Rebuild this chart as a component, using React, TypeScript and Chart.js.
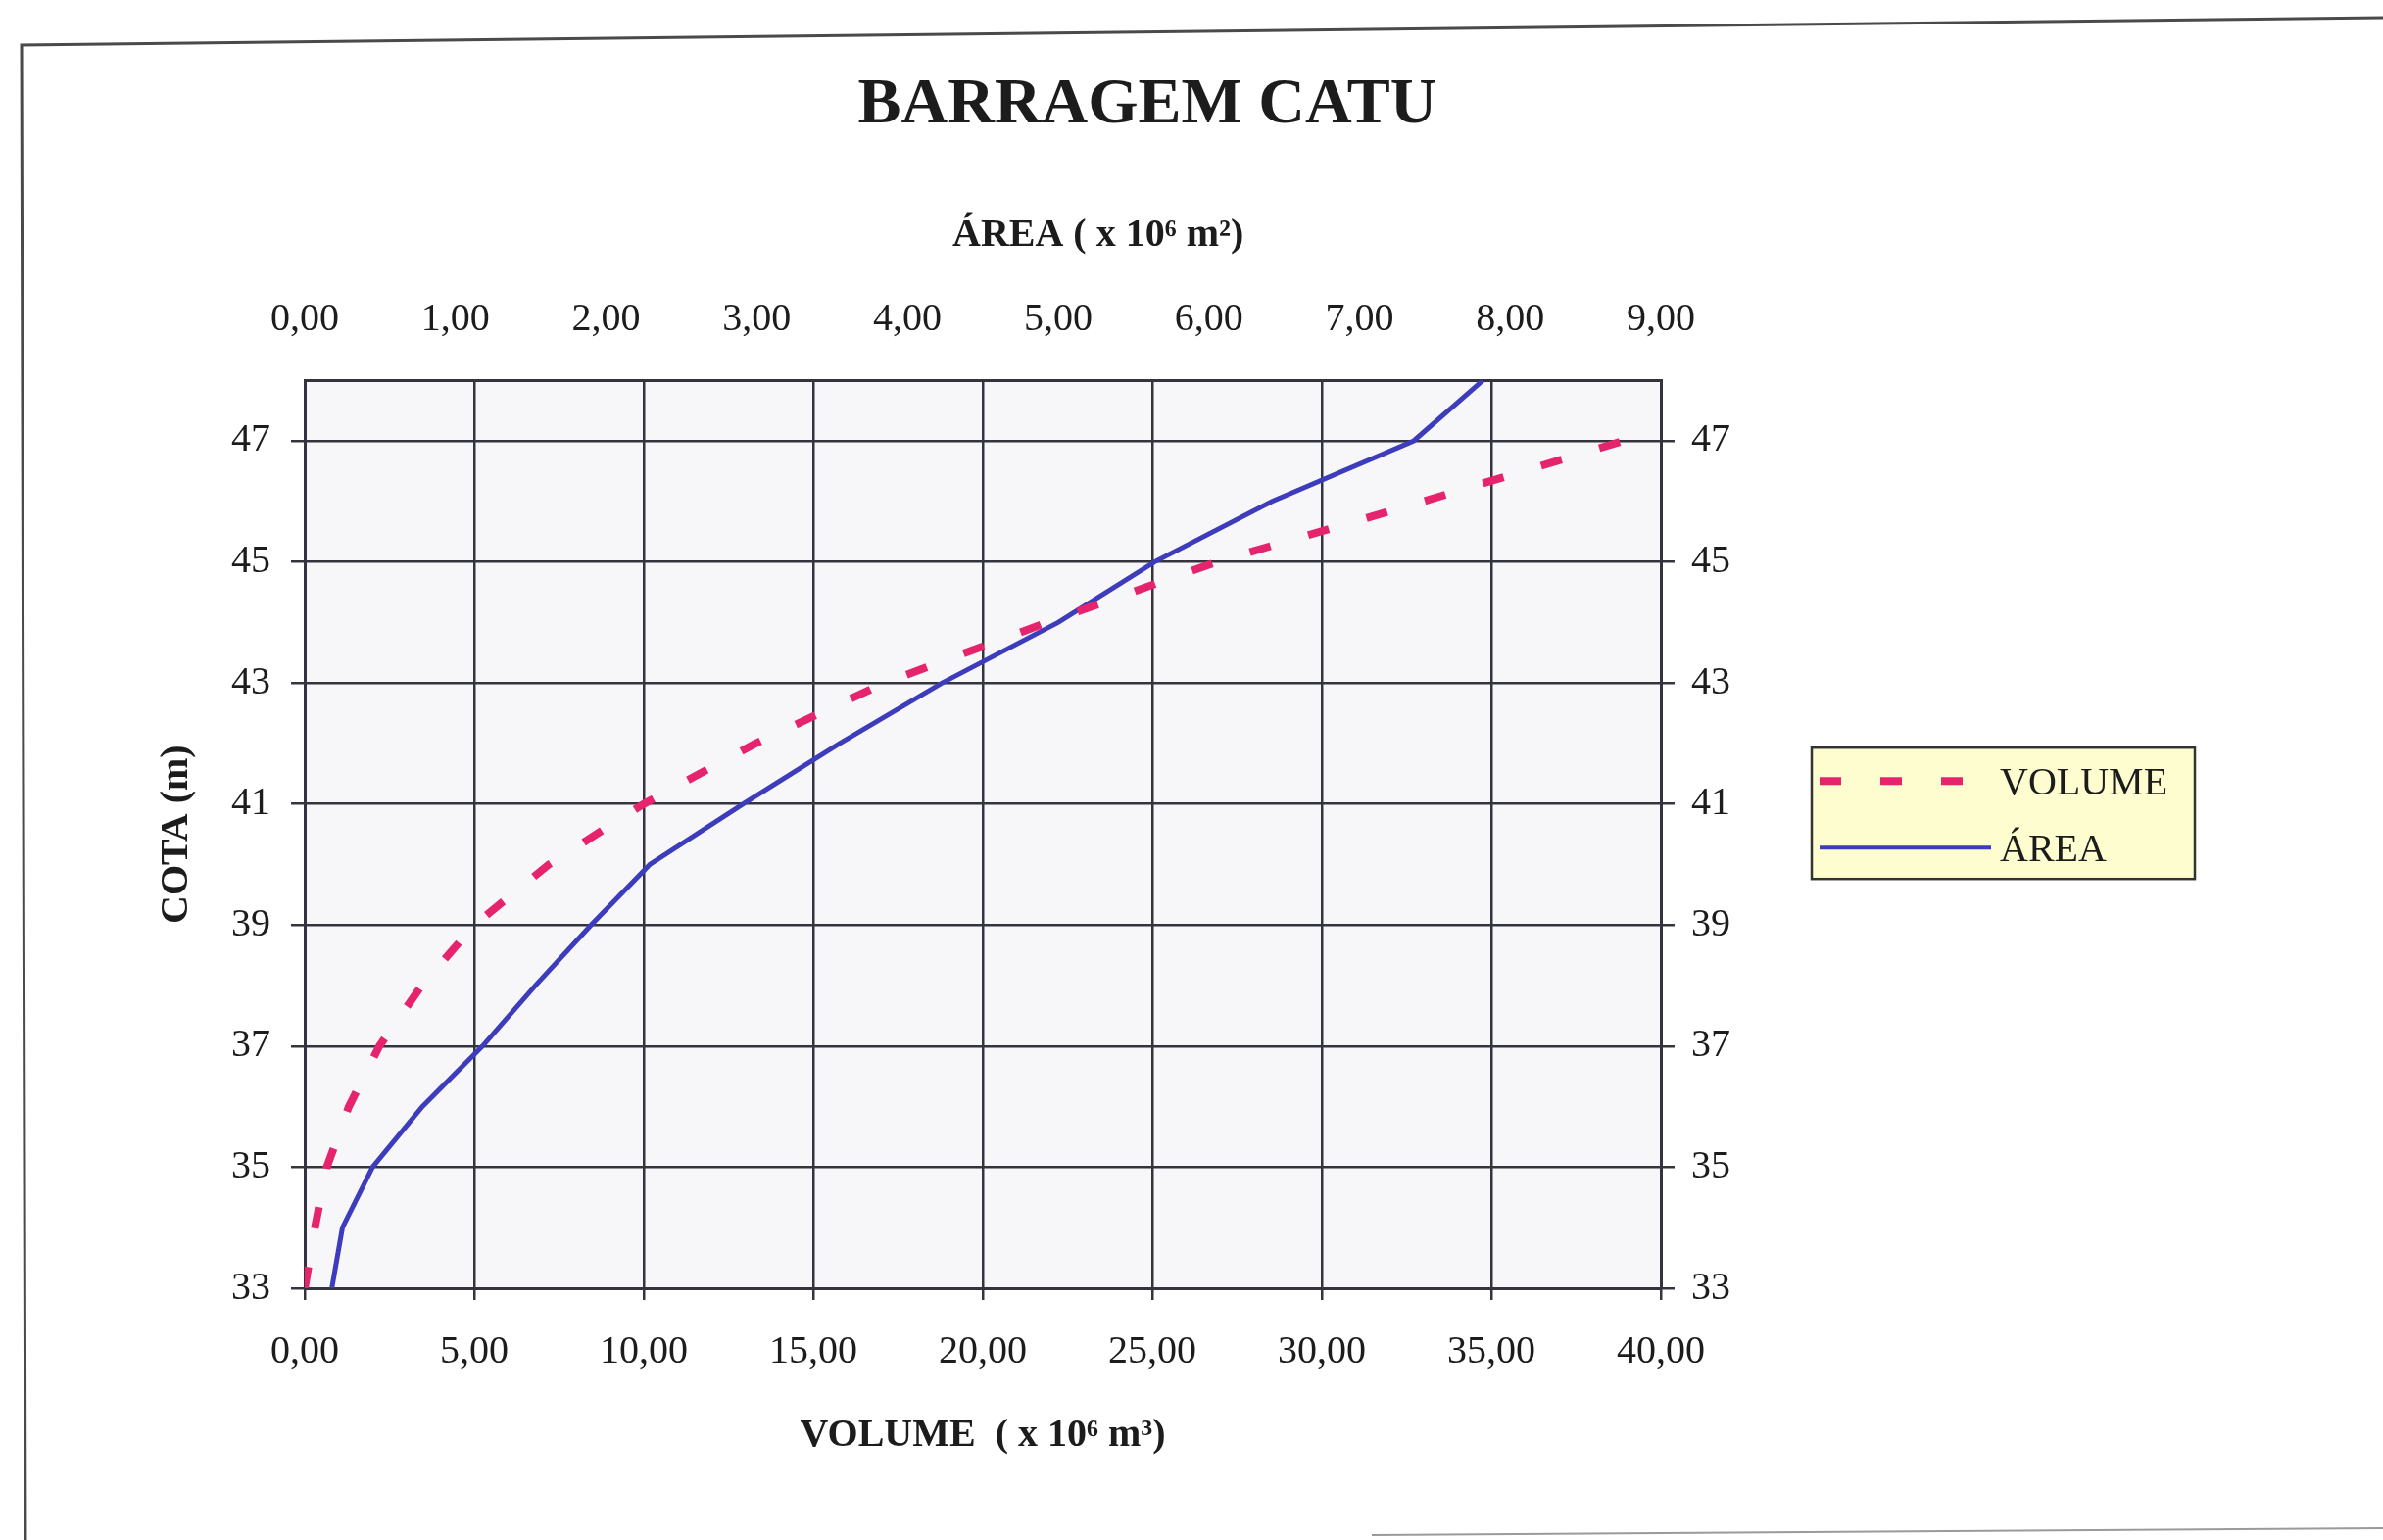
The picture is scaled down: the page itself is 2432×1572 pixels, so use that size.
import React, { useEffect, useRef } from "react";
import { Chart, registerables } from "chart.js";

Chart.register(...registerables);

// ---------- data ----------
const CHART_TITLE = "BARRAGEM CATU";
const AREA_AXIS_TITLE = "ÁREA ( x 10⁶ m²)";
const VOLUME_AXIS_TITLE = "VOLUME  ( x 10⁶ m³)";
const COTA_AXIS_TITLE = "COTA (m)";

const COTAS_VOLUME = [33, 34, 35, 36, 37, 38, 39, 40, 41, 42, 43, 44, 45, 46, 47];
const VOLUME = [0.0, 0.3, 0.65, 1.3, 2.2, 3.45, 5.0, 7.2, 10.0, 13.3, 17.1, 21.9, 26.9, 33.0, 38.9];

const COTAS_AREA = [33, 34, 35, 36, 37, 38, 39, 40, 41, 42, 43, 44, 45, 46, 47, 48];
const AREA = [0.18, 0.25, 0.45, 0.78, 1.18, 1.53, 1.9, 2.29, 2.91, 3.55, 4.23, 5.0, 5.64, 6.42, 7.36, 7.82];

const VOLUME_TICKS = [0, 5, 10, 15, 20, 25, 30, 35, 40];
const AREA_TICKS = [0, 1, 2, 3, 4, 5, 6, 7, 8, 9];
const COTA_TICKS = [33, 35, 37, 39, 41, 43, 45, 47];

const SERIES_LABELS = ["VOLUME", "ÁREA"];

// ---------- style ----------
const FONT = "'Liberation Serif', 'Times New Roman', serif";
const TEXT = "#1c1c1c";
const GRID = "#34343f";
const PINK = "#e6246e";
const BLUE = "#3c3cbc";

const fmt = (v: number) => Number(v).toFixed(2).replace(".", ",");

const decorPlugin = {
  id: "decor",
  beforeDraw(chart: any) {
    const { ctx, chartArea, width, height } = chart;
    ctx.save();
    ctx.fillStyle = "#ffffff";
    ctx.fillRect(0, 0, width, height);
    // scanned page frame
    ctx.strokeStyle = "#4a4a4a";
    ctx.lineWidth = 3;
    ctx.beginPath();
    ctx.moveTo(26, height);
    ctx.lineTo(22, 46);
    ctx.lineTo(width, 18);
    ctx.stroke();
    ctx.strokeStyle = "#9a9a9a";
    ctx.lineWidth = 2;
    ctx.beginPath();
    ctx.moveTo(1400, height - 5);
    ctx.lineTo(width, height - 12);
    ctx.stroke();
    // plot background
    ctx.fillStyle = "#f7f7fa";
    ctx.fillRect(chartArea.left, chartArea.top, chartArea.right - chartArea.left, chartArea.bottom - chartArea.top);
    ctx.restore();
  },
  afterDraw(chart: any) {
    const { ctx, chartArea } = chart;
    ctx.save();
    // top axis title
    ctx.fillStyle = TEXT;
    ctx.font = `bold 40px ${FONT}`;
    ctx.textAlign = "center";
    ctx.textBaseline = "middle";
    ctx.fillText(AREA_AXIS_TITLE, chartArea.left + (chartArea.right - chartArea.left) * 0.585, chartArea.top - 148);

    // legend box
    const lx = chartArea.right + 154;
    const ly = chartArea.top + 375;
    const lw = 391;
    const lh = 134;
    ctx.fillStyle = "#fdfdcf";
    ctx.fillRect(lx, ly, lw, lh);
    ctx.strokeStyle = "#333333";
    ctx.lineWidth = 2.5;
    ctx.strokeRect(lx, ly, lw, lh);

    const ds = chart.data.datasets;
    const rows = [ly + 34, ly + 102];
    ds.forEach((d: any, i: number) => {
      const y = rows[i];
      const dashed = d.borderDash && d.borderDash.length;
      ctx.beginPath();
      ctx.strokeStyle = d.borderColor;
      ctx.lineWidth = dashed ? 8 : 4;
      ctx.setLineDash(d.borderDash || []);
      ctx.moveTo(lx + 8, y);
      ctx.lineTo(lx + (dashed ? 165 : 183), y);
      ctx.stroke();
      ctx.setLineDash([]);
      ctx.fillStyle = TEXT;
      ctx.font = `40px ${FONT}`;
      ctx.textAlign = "left";
      ctx.textBaseline = "middle";
      ctx.fillText(d.label, lx + 192, y + 3);
    });
    ctx.restore();
  },
};

export default function App() {
  const ref = useRef<HTMLCanvasElement | null>(null);

  useEffect(() => {
    if (!ref.current) return;
    const tickFont = { family: FONT, size: 40 };
    const titleFont = { family: FONT, size: 40, weight: "bold" as const };

    const chart = new Chart(ref.current, {
      type: "line",
      data: {
        datasets: [
          {
            label: SERIES_LABELS[0],
            data: COTAS_VOLUME.map((c, i) => ({ x: VOLUME[i], y: c })),
            xAxisID: "x",
            yAxisID: "y",
            borderColor: PINK,
            borderWidth: 8,
            borderDash: [22, 40],
            pointRadius: 0,
            tension: 0,
            fill: false,
          },
          {
            label: SERIES_LABELS[1],
            data: COTAS_AREA.map((c, i) => ({ x: AREA[i], y: c })),
            xAxisID: "x2",
            yAxisID: "y",
            borderColor: BLUE,
            borderWidth: 5,
            pointRadius: 0,
            tension: 0,
            fill: false,
          },
        ],
      },
      options: {
        animation: false,
        responsive: false,
        devicePixelRatio: 1,
        layout: { padding: { left: 157, right: 247, top: 0, bottom: 82 } },
        plugins: {
          legend: { display: false },
          tooltip: { enabled: false },
          title: {
            display: true,
            text: CHART_TITLE,
            color: TEXT,
            font: { family: FONT, size: 66, weight: "bold" },
            padding: { top: 68, bottom: 69 },
          },
        },
        scales: {
          x: {
            type: "linear",
            position: "bottom",
            min: 0,
            max: 40,
            afterBuildTicks: (a: any) => {
              a.ticks = VOLUME_TICKS.map((v) => ({ value: v }));
            },
            afterFit: (s: any) => {
              s.height = 175;
            },
            ticks: { callback: (v: any) => fmt(v), font: tickFont, color: TEXT, padding: 29, maxRotation: 0, autoSkip: false },
            grid: { color: GRID, lineWidth: 2.5, tickLength: 12 },
            border: { display: true, color: GRID, width: 3 },
            title: { display: true, text: VOLUME_AXIS_TITLE, font: titleFont, color: TEXT, padding: 0 },
          },
          x2: {
            type: "linear",
            position: "top",
            min: 0,
            max: 9,
            afterBuildTicks: (a: any) => {
              a.ticks = AREA_TICKS.map((v) => ({ value: v }));
            },
            afterFit: (s: any) => {
              s.height = 172;
            },
            ticks: { callback: (v: any) => fmt(v), font: tickFont, color: TEXT, padding: 38, maxRotation: 0, autoSkip: false },
            grid: { display: false, drawTicks: false },
            border: { display: true, color: GRID, width: 3 },
          },
          y: {
            type: "linear",
            position: "left",
            min: 33,
            max: 48,
            afterBuildTicks: (a: any) => {
              a.ticks = COTA_TICKS.map((v) => ({ value: v }));
            },
            afterFit: (s: any) => {
              s.width = 154;
            },
            ticks: { callback: (v: any) => String(v), font: tickFont, color: TEXT, padding: 21, autoSkip: false },
            grid: { color: GRID, lineWidth: 2.5, tickLength: 14 },
            border: { display: true, color: GRID, width: 3 },
            title: { display: true, text: COTA_AXIS_TITLE, font: titleFont, color: TEXT, padding: 0 },
          },
          y2: {
            type: "linear",
            position: "right",
            min: 33,
            max: 48,
            afterBuildTicks: (a: any) => {
              a.ticks = COTA_TICKS.map((v) => ({ value: v }));
            },
            afterFit: (s: any) => {
              s.width = 490;
            },
            ticks: { callback: (v: any) => String(v), font: tickFont, color: TEXT, padding: 17, autoSkip: false },
            grid: { drawOnChartArea: false, color: GRID, lineWidth: 2.5, tickLength: 14 },
            border: { display: true, color: GRID, width: 3 },
          },
        },
      },
      plugins: [decorPlugin],
    } as any);

    return () => chart.destroy();
  }, []);

  return (
    <div style={{ position: "fixed", left: 0, top: 0, width: 2432, height: 1572, background: "#fff" }}>
      <canvas ref={ref} width={2432} height={1572} style={{ display: "block", width: 2432, height: 1572 }} />
    </div>
  );
}
